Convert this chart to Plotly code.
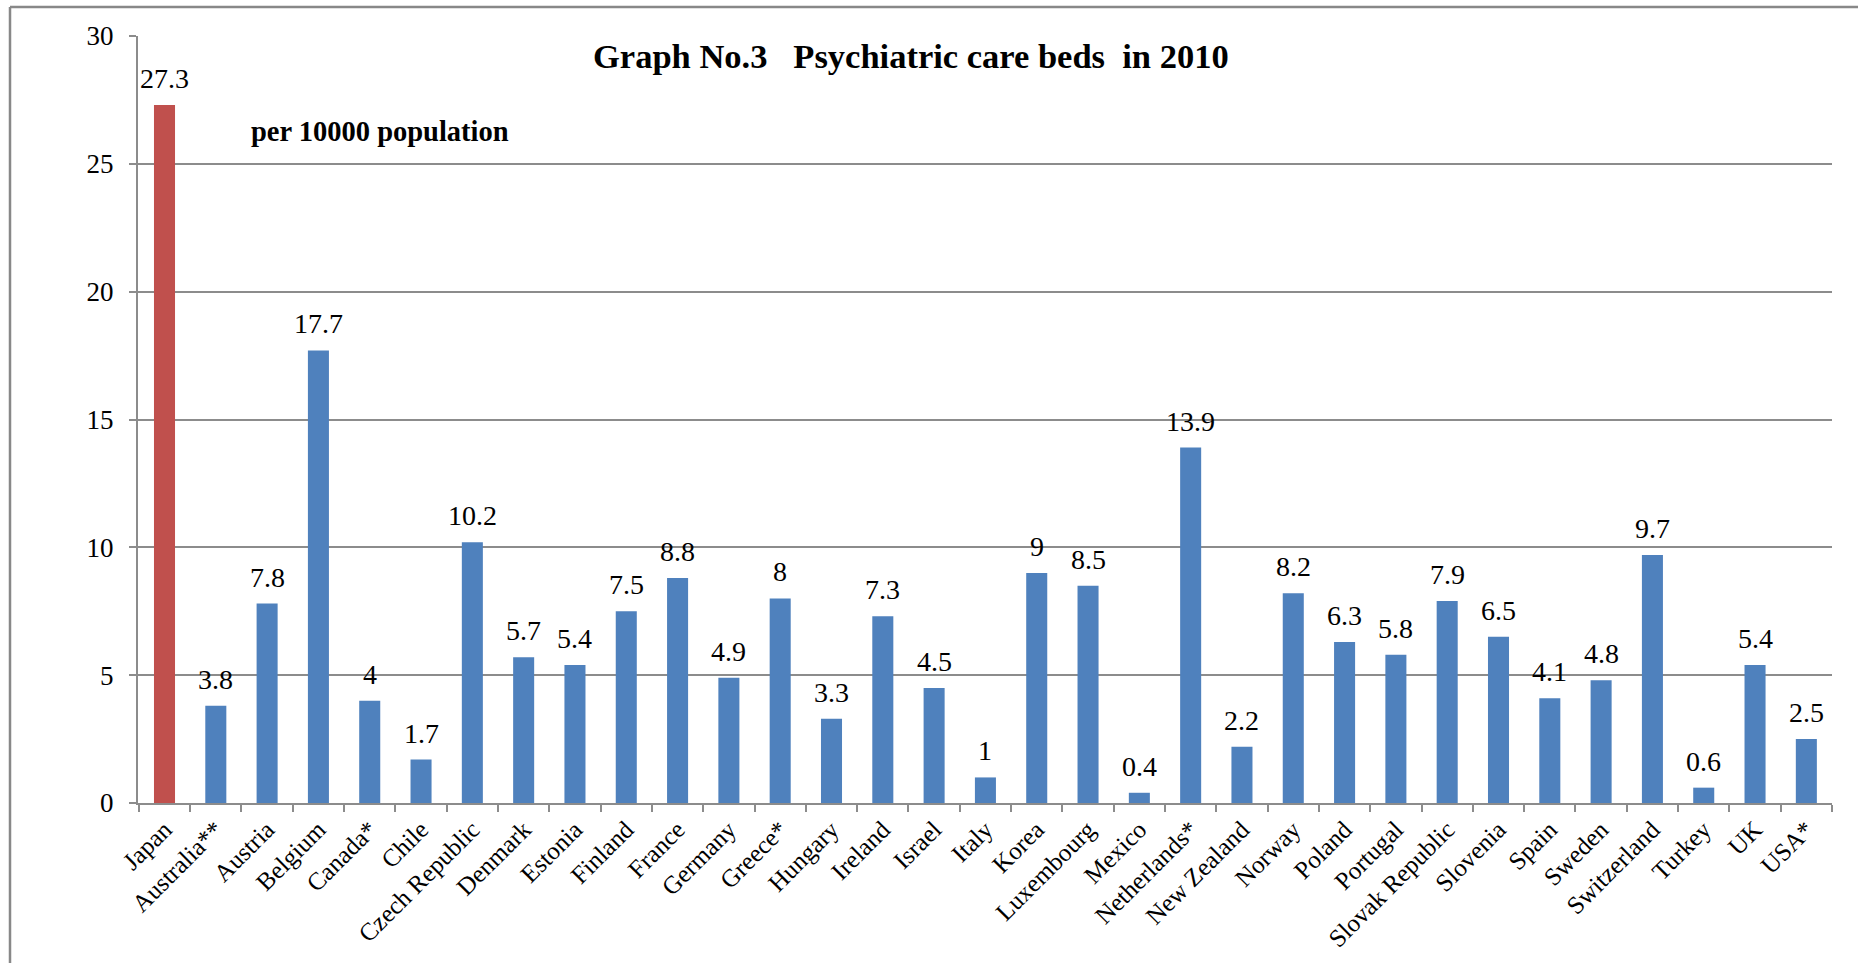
import plotly.graph_objects as go

countries = ["Japan", "Australia**", "Austria", "Belgium", "Canada*", "Chile",
             "Czech Republic", "Denmark", "Estonia", "Finland", "France", "Germany",
             "Greece*", "Hungary", "Ireland", "Israel", "Italy", "Korea", "Luxembourg",
             "Mexico", "Netherlands*", "New Zealand", "Norway", "Poland", "Portugal",
             "Slovak Republic", "Slovenia", "Spain", "Sweden", "Switzerland", "Turkey",
             "UK", "USA*"]
beds = [27.3, 3.8, 7.8, 17.7, 4, 1.7, 10.2, 5.7, 5.4, 7.5, 8.8, 4.9, 8, 3.3, 7.3,
        4.5, 1, 9, 8.5, 0.4, 13.9, 2.2, 8.2, 6.3, 5.8, 7.9, 6.5, 4.1, 4.8, 9.7, 0.6,
        5.4, 2.5]
y_ticks = [0, 5, 10, 15, 20, 25, 30]

BLUE = "#4F81BD"
RED = "#C0504D"
GRID = "#8C8C8C"
FONT = "Liberation Serif"

colors = [RED if c == "Japan" else BLUE for c in countries]

W, H = 1858, 963
L, R, T, B = 138, 26, 36, 160

fig = go.Figure(go.Bar(
    x=countries, y=beds, marker=dict(color=colors, line=dict(width=0)),
    hoverinfo="x+y",
))

pw, ph = W - L - R, H - T - B
def px_x(p):
    return (p - L) / pw
def px_y(p):
    return (H - B - p) / ph

value_labels = [
    dict(x=c, y=v, xref="x", yref="y", text=f"{v:g}", showarrow=False,
         xanchor="center", yanchor="bottom", yshift=9,
         font=dict(family=FONT, size=28, color="black"))
    for c, v in zip(countries, beds)
]

fig.update_layout(
    width=W, height=H,
    margin=dict(l=L, r=R, t=T, b=B),
    paper_bgcolor="white", plot_bgcolor="white",
    bargap=0.59, showlegend=False,
    font=dict(family=FONT, size=24, color="black"),
    xaxis=dict(
        type="category", tickangle=-45, ticks="outside", tickson="boundaries",
        ticklen=7, tickcolor=GRID, tickwidth=2, showline=True, linecolor=GRID,
        linewidth=2, showgrid=False, tickfont=dict(family=FONT, size=25),
    ),
    yaxis=dict(
        range=[0, 30], tickvals=y_ticks, ticks="outside", ticklen=7, tickcolor=GRID,
        tickwidth=2, showline=True, linecolor=GRID, linewidth=2,
        showgrid=True, gridcolor=GRID, gridwidth=2, zeroline=False,
        tickfont=dict(family=FONT, size=27), ticklabelstandoff=10,
    ),
    annotations=value_labels + [
        dict(text="<b>Graph No.3\u00a0\u00a0\u00a0Psychiatric care beds\u00a0\u00a0in 2010</b>",
             x=px_x(911), y=px_y(56), xref="paper", yref="paper", showarrow=False,
             xanchor="center", yanchor="middle", font=dict(family=FONT, size=34.5)),
        dict(text="<b>per 10000 population</b>",
             x=px_x(249), y=px_y(131), xref="paper", yref="paper", showarrow=False,
             xanchor="left", yanchor="middle", font=dict(family=FONT, size=28.5)),
    ],
    shapes=[
        dict(type="line", xref="paper", yref="paper", x0=px_x(10), x1=px_x(W + 5),
             y0=px_y(7), y1=px_y(7), line=dict(color="#888888", width=2.5)),
        dict(type="line", xref="paper", yref="paper", x0=px_x(10), x1=px_x(10),
             y0=px_y(7), y1=px_y(H + 5), line=dict(color="#888888", width=2.5)),
    ],
)

fig.write_html("out.html", config={"displayModeBar": False},
               post_script="document.body.style.margin='0';")
